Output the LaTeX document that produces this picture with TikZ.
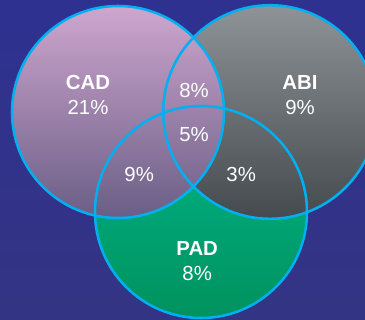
\documentclass[tikz,border=0pt]{standalone}
\usepackage{fontspec}
\setmainfont{Liberation Sans}
\usepackage{tikz}

\definecolor{bgblue}{RGB}{46,49,144}
\definecolor{bgblueb}{RGB}{52,52,132}
\definecolor{ringblue}{RGB}{0,176,240}
\definecolor{cadtop}{RGB}{206,166,206}
\definecolor{cadbot}{RGB}{106,94,134}
\definecolor{abitop}{RGB}{142,147,152}
\definecolor{abibot}{RGB}{68,74,78}
\definecolor{padtop}{RGB}{0,182,138}
\definecolor{padbot}{RGB}{0,146,94}

\tikzset{
  ring/.style={draw=ringblue, line width=1.8pt},
  vlabel/.style={text=white, align=center, font=\fontsize{14.5}{17.6}\selectfont, inner sep=0pt},
}

\begin{document}
\begin{tikzpicture}
    \useasboundingbox (0,0) rectangle (9.125,8);
    \clip (0,0) rectangle (9.125,8);
    \shade[top color=bgblue, bottom color=bgblueb] (0,0) rectangle (9.125,8); % background
\coordinate (cadc) at (2.95,5.2); % CAD centre
\coordinate (abic) at (6.75,5.2); % ABI centre
\coordinate (padc) at (5.025,2.7); % PAD centre
\shade[top color=padtop, bottom color=padbot] (padc) circle (2.65); % PAD
\shade[top color=abitop, bottom color=abibot] (abic) circle (2.67); % ABI
\shade[top color=cadtop, bottom color=cadbot] (cadc) circle (2.65); % CAD
\draw[ring] (padc) circle (2.65); % PAD
\draw[ring] (abic) circle (2.67); % ABI
\draw[ring] (cadc) circle (2.65); % CAD
\node[vlabel] (cad) at (2.2,5.62) {{\bfseries CAD}\\21\%}; % CAD only
\node[vlabel] (abi) at (7.5,5.62) {{\bfseries ABI}\\9\%}; % ABI only
\node[vlabel] (cadabi) at (4.85,5.75) {8\%}; % CAD and ABI
\node[vlabel] (all) at (4.85,4.63) {5\%}; % all three
\node[vlabel] (cadpad) at (3.48,3.65) {9\%}; % CAD and PAD
\node[vlabel] (abipad) at (6.03,3.65) {3\%}; % ABI and PAD
\node[vlabel] (pad) at (4.93,1.47) {{\bfseries PAD}\\8\%}; % PAD only

    \end{tikzpicture}
\end{document}
